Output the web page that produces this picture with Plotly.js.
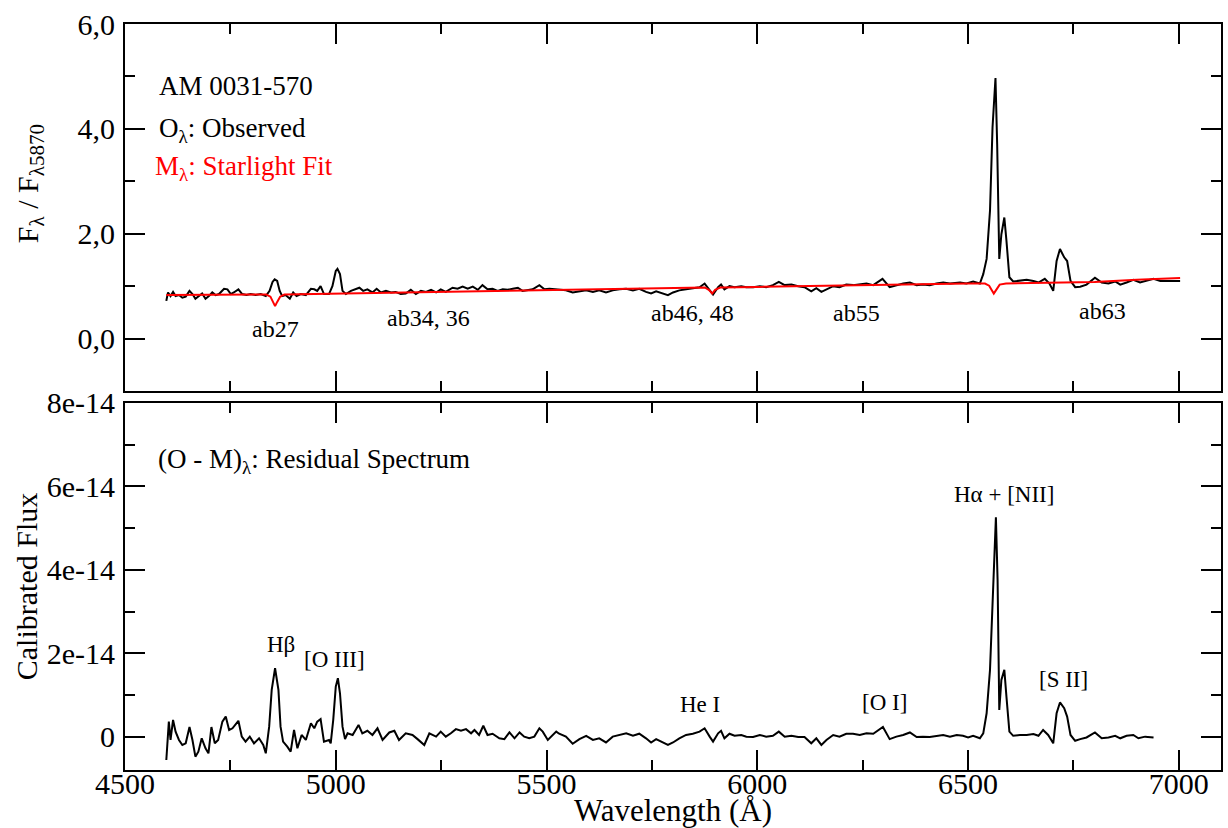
<!DOCTYPE html>
<html>
<head>
<meta charset="utf-8">
<script src="https://cdn.plot.ly/plotly-3.0.1.min.js"></script>
<style>html,body{margin:0;padding:0;background:#fff;}#chart{width:1228px;height:828px;}</style>
</head>
<body>
<div id="chart"></div>
<script>
// ---------- DATA ----------
// Top panel: observed spectrum O_lambda, normalised at 5870 A
var obsWave = [4598,4602,4608,4614,4620,4628,4636,4644,4653,4660,4667,4675,4683,4691,4699,4707,4715,4723,4735,4743,4751,4758,4769,4778,4788,4798,4810,4822,4834,4843,4850,4855,4861,4867,4873,4881,4891,4899,4907,4917,4929,4941,4949,4956,4964,4972,4984,4992,5000,5004,5010,5016,5024,5036,5048,5056,5065,5075,5087,5097,5107,5119,5131,5142,5154,5166,5178,5190,5202,5214,5226,5238,5249,5261,5277,5289,5301,5313,5325,5337,5348,5360,5372,5384,5396,5408,5420,5432,5443,5455,5467,5483,5495,5507,5530,5546,5562,5578,5594,5610,5625,5641,5657,5673,5689,5705,5720,5736,5748,5760,5776,5788,5800,5815,5831,5847,5863,5875,5887,5895,5907,5914,5922,5934,5946,5962,5974,5990,6006,6021,6037,6051,6065,6081,6097,6112,6128,6140,6152,6164,6180,6195,6211,6227,6243,6259,6275,6297,6314,6330,6346,6362,6378,6393,6409,6425,6441,6457,6473,6481,6496,6512,6528,6536,6544,6552,6558,6565,6569,6574,6579,6586,6591,6598,6607,6623,6639,6655,6667,6682,6693,6702,6710,6718,6728,6735,6743,6754,6766,6781,6801,6817,6833,6849,6861,6876,6892,6908,6924,6940,6956,6979,7003];
var obsFlux = [0.72,0.88,0.81,0.89,0.81,0.83,0.78,0.80,0.91,0.85,0.76,0.81,0.86,0.76,0.81,0.88,0.83,0.85,0.95,0.94,0.85,0.88,0.94,0.85,0.83,0.85,0.83,0.85,0.81,0.91,1.08,1.13,1.10,0.91,0.81,0.83,0.76,0.88,0.81,0.85,0.83,0.95,0.94,0.91,1.00,0.85,0.85,1.00,1.29,1.33,1.23,0.91,0.85,0.91,0.94,0.97,0.91,0.94,0.88,0.95,0.88,0.91,0.88,0.89,0.85,0.86,0.93,0.85,0.91,0.89,0.93,0.88,0.94,0.89,0.97,0.95,0.99,0.95,0.99,0.93,1.02,0.94,0.95,0.91,0.94,0.93,0.95,0.97,0.91,0.93,0.94,1.02,0.94,0.95,0.94,0.92,0.88,0.90,0.92,0.89,0.92,0.88,0.92,0.94,0.95,0.92,0.95,0.89,0.86,0.90,0.86,0.83,0.88,0.92,0.94,0.96,0.98,1.05,0.92,0.84,0.98,1.03,0.94,1.00,0.98,1.00,0.98,0.98,1.00,0.98,1.02,1.08,1.02,1.03,1.00,0.98,0.90,0.96,0.89,0.94,1.00,0.98,1.03,1.02,1.03,1.05,1.02,1.14,0.98,1.02,1.05,1.07,1.02,1.03,1.02,1.05,1.07,1.05,1.07,1.07,1.05,1.09,1.05,1.23,1.52,2.44,4.03,4.97,3.71,1.52,1.99,2.31,1.87,1.17,1.09,1.10,1.12,1.10,1.07,1.14,1.05,0.91,1.48,1.71,1.55,1.48,1.10,0.98,0.99,1.03,1.16,1.07,1.05,1.09,1.03,1.07,1.12,1.07,1.10,1.14,1.10,1.10,1.10];

// Top panel: STARLIGHT model M_lambda
var modelWave = [4598,4700,4800,4835,4845,4851,4856,4861,4868,4878,4950,5050,5150,5250,5350,5450,5550,5650,5750,5850,5875,5885,5893,5900,5912,6000,6100,6200,6300,6400,6500,6540,6550,6558,6561,6566,6575,6590,6700,6800,6900,7003];
var modelFlux = [0.83,0.835,0.84,0.84,0.80,0.70,0.62,0.70,0.80,0.84,0.85,0.86,0.875,0.89,0.905,0.92,0.94,0.95,0.96,0.97,0.975,0.93,0.86,0.93,0.975,0.985,1.00,1.01,1.025,1.04,1.05,1.05,1.01,0.90,0.86,0.92,1.03,1.05,1.06,1.08,1.12,1.155];

// Bottom panel: residual spectrum (O - M), in units of 1e-14
var resWave = [4598,4604,4608,4614,4620,4628,4636,4644,4653,4660,4667,4674,4682,4691,4698,4705,4713,4721,4731,4739,4747,4755,4769,4777,4786,4796,4806,4818,4828,4834,4842,4848,4856,4864,4869,4875,4885,4893,4901,4909,4919,4929,4941,4949,4956,4964,4972,4984,4988,4994,5000,5005,5010,5016,5022,5028,5040,5054,5063,5075,5087,5099,5111,5127,5139,5150,5166,5182,5194,5210,5222,5238,5249,5261,5273,5285,5297,5309,5321,5329,5340,5350,5360,5372,5388,5400,5412,5424,5436,5447,5459,5471,5483,5491,5503,5523,5530,5546,5562,5578,5594,5610,5625,5641,5657,5673,5689,5705,5720,5736,5748,5760,5776,5788,5800,5815,5831,5847,5863,5875,5887,5895,5907,5914,5922,5934,5946,5962,5974,5990,6006,6021,6037,6051,6065,6081,6097,6112,6128,6140,6152,6164,6180,6195,6211,6227,6243,6259,6275,6298,6314,6330,6346,6362,6378,6393,6409,6425,6441,6457,6473,6488,6500,6512,6528,6536,6544,6552,6560,6566,6570,6574,6579,6586,6591,6598,6607,6623,6639,6655,6667,6678,6690,6702,6710,6718,6728,6735,6743,6754,6766,6781,6801,6817,6833,6849,6861,6876,6892,6904,6920,6940];
var resFlux = [-0.56,0.36,-0.08,0.40,0.12,-0.08,-0.20,-0.16,0.23,-0.08,-0.48,-0.36,-0.04,-0.28,-0.40,0.23,-0.16,-0.08,0.36,0.48,0.16,0.20,0.38,0.00,-0.12,0.00,-0.16,-0.04,-0.20,-0.40,0.24,1.12,1.64,1.12,0.24,-0.12,-0.24,-0.36,0.16,-0.28,0.04,-0.08,0.32,0.20,0.36,0.42,-0.12,-0.08,-0.16,0.40,1.20,1.40,1.04,0.24,-0.06,0.08,0.04,0.28,0.08,0.14,0.04,0.20,-0.08,0.10,0.14,-0.08,0.08,0.04,-0.06,-0.20,0.08,0.00,0.12,0.00,0.08,0.18,0.14,0.18,0.08,0.16,0.04,0.26,0.04,0.07,-0.04,-0.06,0.10,-0.04,0.10,0.00,-0.04,0.00,0.20,0.12,-0.08,0.12,0.07,0.00,-0.17,-0.06,0.02,-0.08,-0.04,-0.14,0.00,0.04,0.08,0.02,0.07,-0.04,-0.14,-0.06,-0.14,-0.20,-0.14,-0.04,0.04,0.07,0.12,0.20,0.00,-0.12,0.08,0.14,-0.04,0.07,0.02,0.04,0.00,-0.01,0.04,0.00,0.02,0.12,0.00,0.02,-0.01,-0.01,-0.16,-0.04,-0.20,-0.08,0.04,0.00,0.07,0.07,0.04,0.08,0.07,0.23,-0.06,0.00,0.04,0.10,-0.01,0.00,-0.01,0.02,0.04,0.00,0.04,0.02,-0.02,0.02,-0.04,0.08,0.56,1.60,3.76,5.26,3.76,0.64,1.36,1.60,0.96,0.12,0.02,0.04,0.04,0.06,0.02,0.16,0.04,-0.16,0.56,0.82,0.68,0.48,0.04,-0.10,-0.06,-0.02,0.10,-0.04,-0.02,0.02,-0.04,0.02,0.04,-0.04,0.00,-0.02];

// Tick labels
var xTickVals = [4500,5000,5500,6000,6500,7000];
var xTickText = ['4500','5000','5500','6000','6500','7000'];
var yTopTickVals = [0,2,4,6];
var yTopTickText = ['0,0','2,0','4,0','6,0'];
var yBotTickVals = [0,2,4,6,8];
var yBotTickText = ['0','2e-14','4e-14','6e-14','8e-14'];

// Text labels
var absLabels = ['ab27','ab34, 36','ab46, 48','ab55','ab63'];
var absLabelWave = [4856,5219,5846,6236,6818];
var absLabelY = [0.19,0.40,0.48,0.48,0.53];
var lineLabels = ['H\u03b2','[O III]','He I','[O I]','H\u03b1 + [NII]','[S II]'];
var lineLabelWave = [4870,4998,5863,6302,6585,6726];
var lineLabelY = [2.20,1.84,0.76,0.81,5.80,1.36];

// ---------- CHART ----------
var FONT = 'Liberation Serif, Times New Roman, serif';
var traces = [
  {x: obsWave, y: obsFlux, xaxis:'x', yaxis:'y', mode:'lines', line:{color:'#000', width:2}, hoverinfo:'skip'},
  {x: modelWave, y: modelFlux, xaxis:'x', yaxis:'y', mode:'lines', line:{color:'#ff0000', width:2}, hoverinfo:'skip'},
  {x: resWave, y: resFlux, xaxis:'x2', yaxis:'y2', mode:'lines', line:{color:'#000', width:2}, hoverinfo:'skip'}
];

function xaxisCfg(showLabels){
  return {
    range:[4500,7100], showgrid:false, zeroline:false,
    showline:true, linecolor:'#000', linewidth:2, mirror:'ticks',
    ticks:'inside', ticklen:20, tickwidth:2, tickcolor:'#000',
    tickmode:'array', tickvals:xTickVals, ticktext:xTickText,
    showticklabels: showLabels, ticklabelstandoff:-14,
    minor:{tickmode:'linear', tick0:4500, dtick:250, ticks:'inside', ticklen:10, tickwidth:2, tickcolor:'#000'},
    tickfont:{family:FONT, size:30, color:'#000'}
  };
}
function yaxisCfg(range, vals, text, domain){
  return {
    range:range, domain:domain, showgrid:false, zeroline:false,
    showline:true, linecolor:'#000', linewidth:2, mirror:'ticks',
    ticks:'inside', ticklen:20, tickwidth:2, tickcolor:'#000',
    tickmode:'array', tickvals:vals, ticktext:text, ticklabelstandoff:2,
    minor:{tickmode:'linear', tick0:0, dtick:1, ticks:'inside', ticklen:10, tickwidth:2, tickcolor:'#000'},
    tickfont:{family:FONT, size:30, color:'#000'}
  };
}

var xa = xaxisCfg(false); xa.anchor = 'y';
var xa2 = xaxisCfg(true); xa2.anchor = 'y2';
xa2.title = {text:'Wavelength (\u00c5)', font:{family:FONT, size:31, color:'#000'}, standoff:1};
var ya = yaxisCfg([-1,6], yTopTickVals, yTopTickText, [0.508,1]); ya.anchor='x';
var ya2 = yaxisCfg([-0.8,8], yBotTickVals, yBotTickText, [0,0.492]); ya2.anchor='x2';
ya2.title = {text:'Calibrated Flux', font:{family:FONT, size:30, color:'#000'}, standoff:0};

var annotations = [
  {xref:'paper', yref:'paper', x:-0.0865, y:0.7855, xanchor:'center', yanchor:'middle', textangle:-90,
   text:'F<sub>\u03bb</sub> / F<sub>\u03bb5870</sub>', showarrow:false, font:{family:FONT, size:30, color:'#000'}},
  {xref:'x', yref:'y', x:4575, y:4.82, xanchor:'left', yanchor:'middle', text:'AM 0031-570', showarrow:false, font:{family:FONT, size:27, color:'#000'}},
  {xref:'x', yref:'y', x:4575, y:3.98, xanchor:'left', yanchor:'middle', text:'O<sub>\u03bb</sub>: Observed', showarrow:false, font:{family:FONT, size:27, color:'#000'}},
  {xref:'x', yref:'y', x:4566, y:3.25, xanchor:'left', yanchor:'middle', text:'M<sub>\u03bb</sub>: Starlight Fit', showarrow:false, font:{family:FONT, size:27, color:'#ff0000'}},
  {xref:'x2', yref:'y2', x:4573, y:6.62, xanchor:'left', yanchor:'middle', text:'(O - M)<sub>\u03bb</sub>: Residual Spectrum', showarrow:false, font:{family:FONT, size:27, color:'#000'}}
];
for (var i=0;i<absLabels.length;i++){
  annotations.push({xref:'x', yref:'y', x:absLabelWave[i], y:absLabelY[i], xanchor:'center', yanchor:'middle', text:absLabels[i], showarrow:false, font:{family:FONT, size:24, color:'#000'}});
}
for (var j=0;j<lineLabels.length;j++){
  annotations.push({xref:'x2', yref:'y2', x:lineLabelWave[j], y:lineLabelY[j], xanchor:'center', yanchor:'middle', text:lineLabels[j], showarrow:false, font:{family:FONT, size:23, color:'#000'}});
}

var layout = {
  width:1228, height:828,
  margin:{l:125, r:7, t:24, b:58},
  paper_bgcolor:'#fff', plot_bgcolor:'#fff',
  showlegend:false,
  xaxis: xa, yaxis: ya, xaxis2: xa2, yaxis2: ya2,
  annotations: annotations,
  font:{family:FONT, color:'#000'}
};
Plotly.newPlot('chart', traces, layout, {staticPlot:true, displayModeBar:false});
</script>
</body>
</html>
